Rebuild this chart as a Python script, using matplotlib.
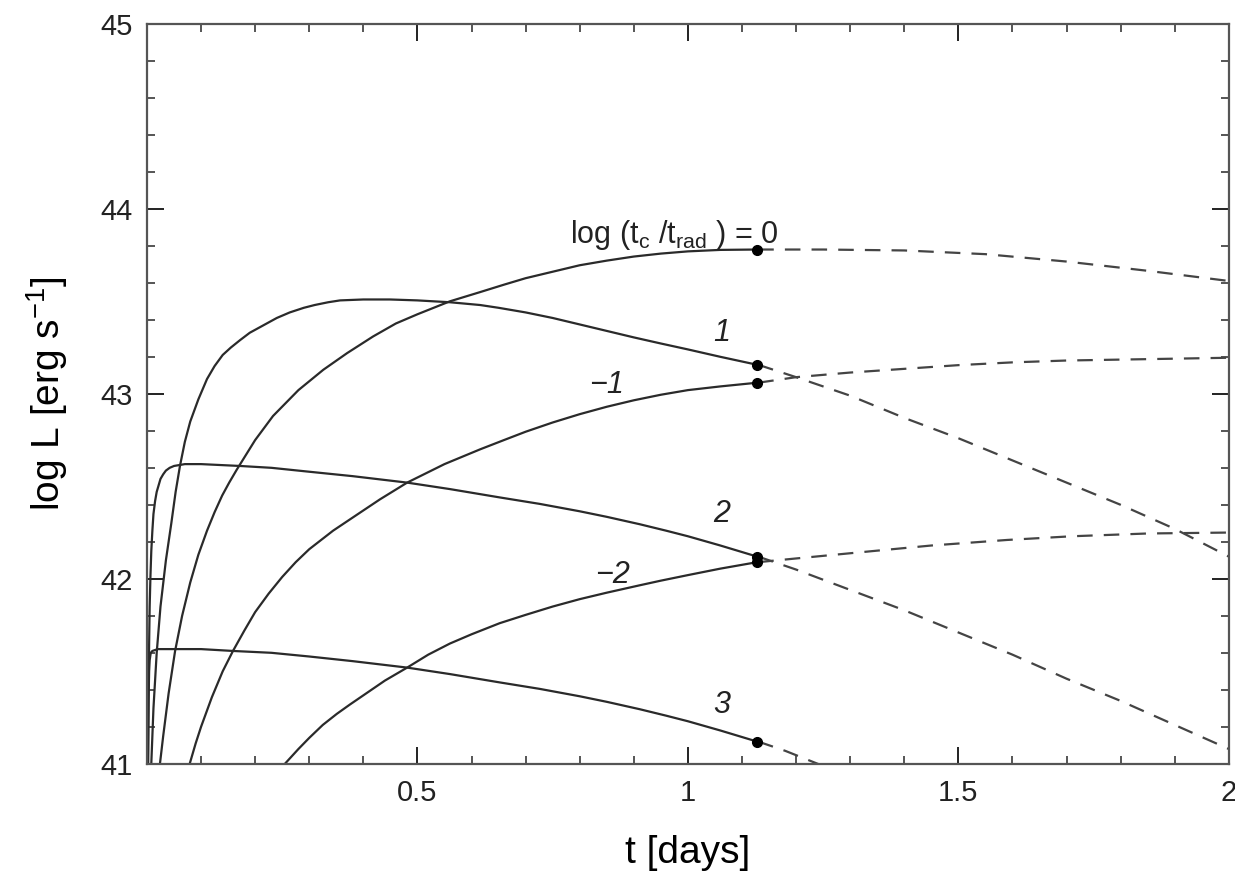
import matplotlib
matplotlib.use("Agg")
import matplotlib.pyplot as plt
from matplotlib.ticker import MultipleLocator

plt.rcParams['font.family'] = ['Liberation Sans', 'DejaVu Sans']
plt.rcParams['mathtext.fontset'] = 'custom'
plt.rcParams['mathtext.rm'] = 'Liberation Sans'
plt.rcParams['mathtext.it'] = 'Liberation Sans:italic'

# solid curves, log(tc/trad) = 0, 1, -1, 2, -2, 3
x0 = [0.024, 0.03, 0.04, 0.052, 0.065, 0.08, 0.095, 0.111, 0.125, 0.139, 0.152, 0.166, 0.2, 0.233, 0.28, 0.326, 0.37,
      0.418, 0.46, 0.5, 0.56, 0.616, 0.66, 0.7, 0.75, 0.8, 0.85, 0.9, 0.95, 1.0, 1.06, 1.128]
y0 = [41.0, 41.15, 41.38, 41.61, 41.8, 41.98, 42.13, 42.26, 42.36, 42.45, 42.52, 42.59, 42.75, 42.88, 43.02, 43.13, 43.22,
      43.31, 43.38, 43.43, 43.50, 43.55, 43.59, 43.625, 43.66, 43.695, 43.72, 43.742, 43.758, 43.77, 43.778, 43.78]

x1 = [0.008, 0.012, 0.018, 0.025, 0.035, 0.045, 0.053, 0.061, 0.07, 0.08, 0.095, 0.111, 0.125, 0.14, 0.155, 0.172, 0.19,
      0.215, 0.24, 0.264, 0.29, 0.31, 0.335, 0.357, 0.4, 0.449, 0.5, 0.56, 0.616, 0.65, 0.7, 0.75, 0.8, 0.85, 0.9, 0.95,
      1.0, 1.06, 1.128]
y1 = [41.0, 41.3, 41.6, 41.85, 42.1, 42.3, 42.47, 42.61, 42.74, 42.85, 42.97, 43.08, 43.15, 43.21, 43.25, 43.29, 43.33,
      43.37, 43.41, 43.44, 43.465, 43.48, 43.495, 43.505, 43.51, 43.51, 43.505, 43.495, 43.48, 43.465, 43.44, 43.41, 43.375,
      43.34, 43.305, 43.272, 43.24, 43.2, 43.157]

xm1 = [0.079, 0.09, 0.1, 0.12, 0.14, 0.159, 0.18, 0.2, 0.225, 0.25, 0.275, 0.3, 0.344, 0.39, 0.431, 0.481, 0.55, 0.616,
       0.66, 0.7, 0.75, 0.8, 0.85, 0.9, 0.95, 1.0, 1.06, 1.128]
ym1 = [41.0, 41.11, 41.2, 41.36, 41.5, 41.61, 41.72, 41.82, 41.92, 42.01, 42.09, 42.16, 42.26, 42.35, 42.43, 42.52,
       42.62, 42.70, 42.75, 42.795, 42.845, 42.89, 42.93, 42.965, 42.995, 43.02, 43.04, 43.06]

x2 = [0.002, 0.003, 0.004, 0.005, 0.0065, 0.008, 0.01, 0.012, 0.015, 0.018, 0.022, 0.025, 0.03, 0.035, 0.042, 0.05,
      0.07, 0.1, 0.172, 0.23, 0.296, 0.38, 0.481, 0.56, 0.652, 0.726, 0.8, 0.85, 0.911, 0.96, 1.0, 1.06, 1.128]
y2 = [41.0, 41.4, 41.65, 41.85, 42.02, 42.15, 42.26, 42.35, 42.42, 42.47, 42.51, 42.54, 42.565, 42.585, 42.60, 42.61,
      42.62, 42.62, 42.61, 42.60, 42.58, 42.555, 42.52, 42.485, 42.44, 42.405, 42.365, 42.335, 42.295, 42.26, 42.23, 42.18,
      42.12]

xm2 = [0.255, 0.28, 0.3, 0.325, 0.351, 0.375, 0.4, 0.44, 0.481, 0.52, 0.56, 0.6, 0.652, 0.7, 0.75, 0.8, 0.85, 0.911,
       0.95, 1.0, 1.06, 1.128]
ym2 = [41.0, 41.08, 41.14, 41.21, 41.27, 41.32, 41.37, 41.45, 41.52, 41.59, 41.65, 41.70, 41.76, 41.805, 41.85, 41.89,
       41.925, 41.965, 41.99, 42.02, 42.055, 42.09]

x3 = [0.002, 0.0025, 0.003, 0.004, 0.005, 0.007, 0.01, 0.02, 0.05, 0.1, 0.159, 0.23, 0.3, 0.38, 0.481, 0.56, 0.652,
      0.726, 0.8, 0.85, 0.911, 0.96, 1.0, 1.06, 1.128]
y3 = [41.0, 41.2, 41.35, 41.5, 41.56, 41.6, 41.61, 41.62, 41.62, 41.62, 41.61, 41.6, 41.58, 41.555, 41.52, 41.485,
      41.44, 41.405, 41.365, 41.335, 41.295, 41.26, 41.23, 41.18, 41.12]

# dashed continuations
dx0 = [1.13, 1.25, 1.4, 1.55, 1.7, 1.85, 2.0]
dy0 = [43.78, 43.78, 43.775, 43.755, 43.715, 43.665, 43.61]
dx1 = [1.13, 1.2, 1.3, 1.4, 1.5, 1.6, 1.7, 1.8, 1.9, 2.0]
dy1 = [43.157, 43.09, 42.99, 42.87, 42.76, 42.64, 42.52, 42.40, 42.27, 42.12]
dxm1 = [1.13, 1.2, 1.3, 1.4, 1.5, 1.6, 1.7, 1.8, 1.9, 2.0]
dym1 = [43.06, 43.09, 43.115, 43.135, 43.155, 43.17, 43.18, 43.185, 43.19, 43.195]
dx2 = [1.13, 1.2, 1.3, 1.4, 1.5, 1.6, 1.7, 1.8, 1.9, 2.0]
dy2 = [42.12, 42.05, 41.94, 41.83, 41.71, 41.59, 41.46, 41.34, 41.21, 41.08]
dxm2 = [1.13, 1.2, 1.342, 1.45, 1.59, 1.71, 1.85, 2.0]
dym2 = [42.09, 42.11, 42.15, 42.18, 42.21, 42.23, 42.245, 42.25]
dx3 = [1.13, 1.18, 1.24, 1.26]
dy3 = [41.12, 41.07, 41.0, 40.98]

labels = ["1", "\u22121", "2", "\u22122", "3"]
label_x = [1.063, 0.85, 1.063, 0.86, 1.063]
label_y = [43.33, 43.05, 42.35, 42.02, 41.32]

fig = plt.figure(figsize=(12.35, 8.83), dpi=100)
ax = fig.add_axes([0.119, 0.135, 0.876, 0.838])

lc = '#2a2a2a'
solid = [(x0, y0), (x1, y1), (xm1, ym1), (x2, y2), (xm2, ym2), (x3, y3)]
for xs, ys in solid:
    ax.plot(xs, ys, color=lc, lw=1.6, solid_capstyle='butt')
    ax.plot(xs[-1], ys[-1], 'o', color='black', ms=7, zorder=5)

dashed = [(dx0, dy0), (dx1, dy1), (dxm1, dym1), (dx2, dy2), (dxm2, dym2), (dx3, dy3)]
for xs, ys in dashed:
    ax.plot(xs, ys, color='#444444', lw=1.6, dashes=(7, 5))

ax.text(0.975, 43.86, r'log (t$_{\rm c}$ /t$_{\rm rad}$ ) = 0', fontsize=22,
        ha='center', va='center', color='#222222')
for s, tx, ty in zip(labels, label_x, label_y):
    ax.text(tx, ty, s, fontsize=22, style='italic', ha='center', va='center', color='#222222')

ax.set_xlim(0, 2)
ax.set_ylim(41, 45)
ax.set_xticks([0, 0.5, 1, 1.5, 2])
ax.set_xticklabels(['', '0.5', '1', '1.5', '2'])
ax.set_yticks([41, 42, 43, 44, 45])
ax.set_yticklabels(['41', '42', '43', '44', '45'])
ax.xaxis.set_minor_locator(MultipleLocator(0.1))
ax.yaxis.set_minor_locator(MultipleLocator(0.2))
ax.tick_params(which='both', direction='in', top=True, right=True, color='#555555', width=1.4)
ax.tick_params(which='major', length=12, labelsize=21, colors='#222222')
ax.tick_params(which='minor', length=6)
ax.tick_params(axis='x', which='major', pad=11)
ax.tick_params(axis='y', which='major', pad=10)
for sp in ax.spines.values():
    sp.set_color('#555555')
    sp.set_linewidth(1.6)

ax.set_xlabel('t [days]', fontsize=28, labelpad=20)
ax.set_ylabel(r'log L [erg s$^{-1}$]', fontsize=28, labelpad=22)

fig.savefig('out.png', dpi=100, facecolor='white')
